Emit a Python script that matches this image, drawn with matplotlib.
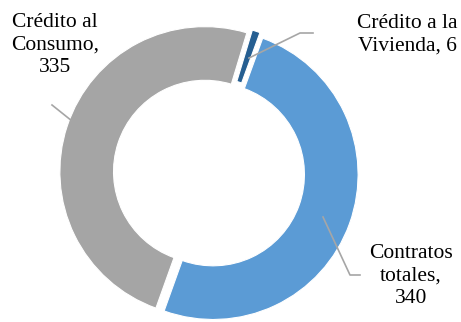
import matplotlib.pyplot as plt

# Contratos por tipo de crédito
categorias = ['Contratos\ntotales,', 'Crédito al\nConsumo,', 'Crédito a la\nVivienda,']
valores = [340, 335, 6]
colores = ['#5B9BD5', '#A5A5A5', '#255E91']

W, H = 461, 322
fig = plt.figure(figsize=(W / 100, H / 100), dpi=100)
ax = fig.add_axes([0, 0, 1, 1])

ax.pie(valores, colors=colores, startangle=70, counterclock=False,
       explode=[0.03, 0.03, 0.03], radius=1,
       wedgeprops=dict(width=0.37, edgecolor='white', linewidth=0.8))

# centro y radio del anillo en pixeles
cx, cy, R = 209, 173, 145
ax.set_xlim(-cx / R, (W - cx) / R)
ax.set_ylim(-(H - cy) / R, cy / R)
ax.set_aspect('equal')
ax.axis('off')


def px(x, y):
    # pixel (desde arriba a la izquierda) a coordenadas de datos
    return (x - cx) / R, (cy - y) / R


fuente = dict(family='Liberation Serif', fontsize=15.5, ha='center', va='center',
              linespacing=1.22)

etiquetas = [f'{categorias[0]}\n{valores[0]}',
             f'{categorias[1]}\n{valores[1]}',
             f'{categorias[2]} {valores[2]}']

ax.text(*px(411, 276), etiquetas[0], **fuente)
ax.text(*px(55, 45), etiquetas[1], **fuente)
ax.text(*px(407, 35), etiquetas[2], **fuente)

# lineas guia
guia = dict(color='#A6A6A6', lw=1.2)
for pts in ([(360, 275), (350, 275), (323, 217)],
            [(52, 105), (72, 121)],
            [(313, 33), (300, 33), (249, 58)]):
    xs, ys = zip(*[px(*p) for p in pts])
    ax.plot(xs, ys, **guia)

fig.savefig('out.png', dpi=100)
